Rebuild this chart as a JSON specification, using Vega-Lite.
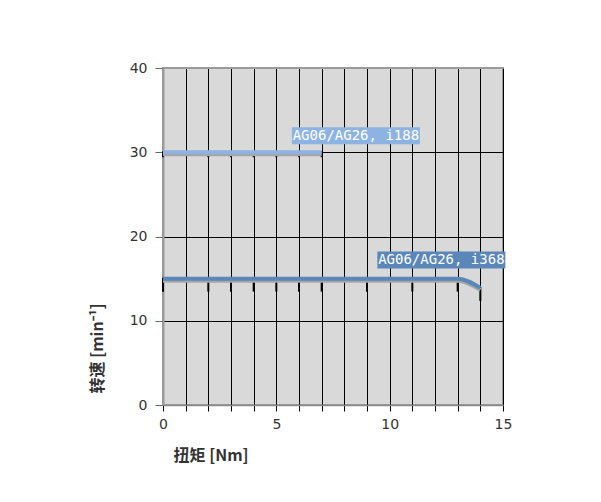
{
  "$schema": "https://vega.github.io/schema/vega-lite/v6.json",
  "width": 340,
  "height": 337,
  "autosize": {"type": "none"},
  "padding": {"left": 163, "top": 68, "right": 98, "bottom": 97},
  "background": "white",
  "config": {
    "view": {"fill": "#d9d9d9", "stroke": "#9a9a9a", "strokeWidth": 2}
  },
  "datasets": {
    "lines": [
      {"series": "i188", "x": 0, "y": 30},
      {"series": "i188", "x": 2, "y": 30},
      {"series": "i188", "x": 3, "y": 30},
      {"series": "i188", "x": 4, "y": 30},
      {"series": "i188", "x": 5, "y": 30},
      {"series": "i188", "x": 6, "y": 30},
      {"series": "i188", "x": 7, "y": 30},
      {"series": "i368", "x": 0, "y": 15},
      {"series": "i368", "x": 2, "y": 15},
      {"series": "i368", "x": 3, "y": 15},
      {"series": "i368", "x": 4, "y": 15},
      {"series": "i368", "x": 5, "y": 15},
      {"series": "i368", "x": 6, "y": 15},
      {"series": "i368", "x": 7, "y": 15},
      {"series": "i368", "x": 9, "y": 15},
      {"series": "i368", "x": 11, "y": 15},
      {"series": "i368", "x": 13, "y": 15},
      {"series": "i368", "x": 14, "y": 13.9}
    ],
    "labels": [
      {"series": "i188", "label": "AG06/AG26, i188", "x": 8.51, "y": 31.96},
      {"series": "i368", "label": "AG06/AG26, i368", "x": 12.28, "y": 17.21}
    ]
  },
  "encoding": {
    "x": {
      "field": "x", "type": "quantitative",
      "scale": {"domain": [0, 15], "nice": false, "zero": false},
      "axis": {
        "values": [0, 1, 2, 3, 4, 5, 6, 7, 8, 9, 10, 11, 12, 13, 14, 15],
        "labelExpr": "datum.value % 5 == 0 ? datum.label : ''",
        "labelOverlap": false,
        "grid": true,
        "gridColor": {"condition": {"test": "datum.value == 0", "value": "#9a9a9a"}, "value": "#000000"},
        "gridWidth": 1,
        "gridOpacity": 1,
        "tickColor": "#000",
        "tickSize": 6,
        "tickWidth": 1,
        "domainColor": "#8a8a8a",
        "domainWidth": 1.5,
        "labelFont": "DejaVu Sans",
        "labelFontSize": 14,
        "labelColor": "#333333",
        "labelPadding": 6,
        "labelFlush": false,
        "title": "扭矩 [Nm]",
        "titleFont": "Noto Sans CJK SC",
        "titleFontWeight": "bold",
        "titleFontSize": 16,
        "titleColor": "#333333",
        "titleAnchor": "start",
        "titleAlign": "left",
        "titleBaseline": "middle",
        "titleX": 10,
        "titleY": 50
      }
    },
    "y": {
      "field": "y", "type": "quantitative",
      "scale": {"domain": [0, 40], "nice": false},
      "axis": {
        "values": [0, 10, 20, 30, 40],
        "grid": true,
        "gridColor": {"condition": {"test": "datum.value == 0 || datum.value == 40", "value": "#9a9a9a"}, "value": "#000000"},
        "gridWidth": 1,
        "gridOpacity": 1,
        "tickColor": "#666666",
        "tickSize": 8,
        "tickWidth": 1,
        "domainColor": "#9a9a9a",
        "domainWidth": 2,
        "labelFont": "DejaVu Sans",
        "labelFontSize": 14,
        "labelColor": "#333333",
        "labelPadding": 8,
        "labelFlush": false,
        "title": "转速 [min⁻¹]",
        "titleFont": "Noto Sans CJK SC",
        "titleFontWeight": "bold",
        "titleFontSize": 16,
        "titleColor": "#333333",
        "titleAngle": 270,
        "titleAnchor": "start",
        "titleAlign": "left",
        "titleBaseline": "middle",
        "titleX": -66,
        "titleY": 325
      }
    }
  },
  "layer": [
    {
      "data": {"name": "lines"},
      "transform": [{"filter": "datum.series == 'i368'"}],
      "mark": {"type": "tick", "orient": "vertical", "size": 14, "thickness": 2, "color": "#000", "yOffset": 6, "opacity": 1}
    },
    {
      "data": {"name": "lines"},
      "transform": [{"filter": "datum.series == 'i188'"}],
      "mark": {"type": "tick", "orient": "vertical", "size": 6, "thickness": 2, "color": "#000", "yOffset": 2, "opacity": 1}
    },
    {
      "data": {"name": "lines"},
      "mark": {"type": "line", "strokeWidth": 4, "color": "#a6a6a6", "yOffset": 2, "interpolate": "monotone"},
      "encoding": {
        "detail": {"field": "series"}
      }
    },
    {
      "data": {"name": "lines"},
      "mark": {"type": "line", "strokeWidth": 4, "interpolate": "monotone"},
      "encoding": {
        "color": {"field": "series", "type": "nominal", "scale": {"domain": ["i188", "i368"], "range": ["#8db3e2", "#5b87b8"]}, "legend": null}
      }
    },
    {
      "data": {"name": "labels"},
      "mark": {"type": "rect", "width": 128, "height": 17},
      "encoding": {
        "color": {"field": "series", "type": "nominal", "legend": null}
      }
    },
    {
      "data": {"name": "labels"},
      "mark": {"type": "text", "font": "DejaVu Sans Mono", "fontSize": 14, "color": "white", "align": "center", "baseline": "middle"},
      "encoding": {
        "text": {"field": "label"}
      }
    }
  ]
}
